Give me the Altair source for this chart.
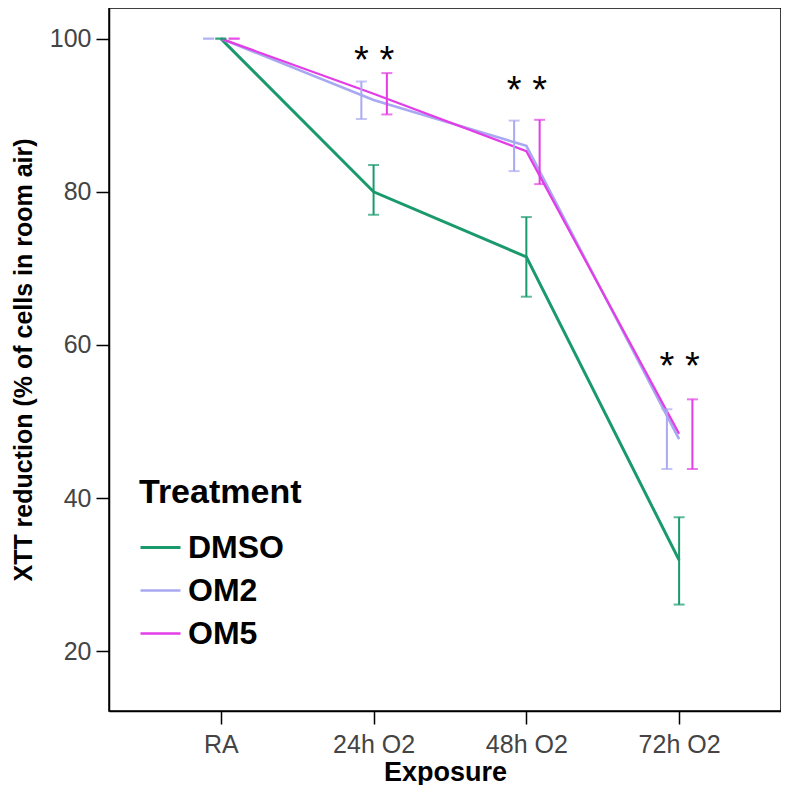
import json
import altair as alt
import pandas as pd

exposures = ["RA", "24h O2", "48h O2", "72h O2"]
treatments = ["DMSO", "OM2", "OM5"]
colors = ["#1a9a6c", "#a9a9f2", "#e23de6"]

dmso_mean = [100, 80.0, 71.5, 31.9]
dmso_lo = [100, 77.0, 66.3, 26.1]
dmso_hi = [100, 83.5, 76.7, 37.5]

om2_mean = [100, 92.0, 86.0, 47.7]
om2_lo = [100, 89.5, 82.7, 43.8]
om2_hi = [100, 94.4, 89.3, 51.6]

om5_mean = [100, 92.8, 85.3, 48.4]
om5_lo = [100, 90.1, 81.0, 43.8]
om5_hi = [100, 95.5, 89.4, 52.9]

# significance markers (above OM2 and OM5 at each O2 exposure)
star_exposures = ["24h O2", "48h O2", "72h O2"]
star_y = [98.2, 94.4, 58.3]
star_text = ["*", "*", "*"]

rows = []
for t, m, lo, hi in zip(treatments, [dmso_mean, om2_mean, om5_mean],
                        [dmso_lo, om2_lo, om5_lo], [dmso_hi, om2_hi, om5_hi]):
    for i, e in enumerate(exposures):
        rows.append({"Treatment": t, "Exposure": e, "idx": i,
                     "mean": m[i], "lo": lo[i], "hi": hi[i]})
df = pd.DataFrame(rows)

star_rows = []
for e, y, s in zip(star_exposures, star_y, star_text):
    for t in ["OM2", "OM5"]:
        star_rows.append({"Treatment": t, "idx": exposures.index(e), "y": y, "label": s})
stars = pd.DataFrame(star_rows)

dodge = "datum.idx + (datum.Treatment == 'OM2' ? -0.08 : (datum.Treatment == 'OM5' ? 0.087 : 0))"
label_expr = json.dumps(exposures) + "[datum.value]"

xscale = alt.Scale(domain=[-0.732, 3.667], nice=False, zero=False)
yscale = alt.Scale(domain=[12.2, 104], nice=False, zero=False)
cscale = alt.Scale(domain=treatments, range=colors)
color = alt.Color("Treatment:N",
                  scale=cscale,
                  legend=alt.Legend(
                      title="Treatment", orient="none", legendX=30, legendY=468,
                      titleFontSize=34, titleFont="Liberation Sans", titleFontWeight="bold",
                      titleColor="black", titlePadding=16,
                      labelFontSize=32, labelFont="Liberation Sans", labelFontWeight="bold",
                      labelColor="black", labelOffset=6,
                      symbolType="stroke", symbolSize=1600, symbolStrokeWidth=3,
                      rowPadding=5, padding=0))

xaxis = alt.Axis(values=[0, 1, 2, 3], labelExpr=label_expr, title="Exposure",
                 grid=False, labelPadding=8, titlePadding=2, titleFontSize=27)
yaxis = alt.Axis(values=[20, 40, 60, 80, 100], title="XTT reduction (% of cells in room air)",
                 grid=False, labelPadding=5, titlePadding=13)

lines = alt.Chart(df).mark_line().encode(
    x=alt.X("idx:Q", scale=xscale, axis=xaxis),
    y=alt.Y("mean:Q", scale=yscale, axis=yaxis),
    color=color,
    strokeWidth=alt.StrokeWidth("Treatment:N",
                                scale=alt.Scale(domain=treatments, range=[3, 2.3, 3.2]),
                                legend=None),
)

bars = alt.Chart(df).transform_calculate(bx=dodge).mark_rule(strokeWidth=2).encode(
    x=alt.X("bx:Q", scale=xscale),
    y=alt.Y("lo:Q", scale=yscale),
    y2="hi:Q",
    color=alt.Color("Treatment:N", scale=cscale, legend=None),
)

caps_lo = alt.Chart(df).transform_calculate(bx=dodge).mark_tick(
    orient="horizontal", size=11, thickness=2).encode(
    x=alt.X("bx:Q", scale=xscale),
    y=alt.Y("lo:Q", scale=yscale),
    color=alt.Color("Treatment:N", scale=cscale, legend=None),
)
caps_hi = alt.Chart(df).transform_calculate(bx=dodge).mark_tick(
    orient="horizontal", size=11, thickness=2).encode(
    x=alt.X("bx:Q", scale=xscale),
    y=alt.Y("hi:Q", scale=yscale),
    color=alt.Color("Treatment:N", scale=cscale, legend=None),
)

star_marks = alt.Chart(stars).transform_calculate(bx=dodge).mark_text(
    font="Liberation Sans", fontSize=38, color="black", baseline="middle", dy=10).encode(
    x=alt.X("bx:Q", scale=xscale),
    y=alt.Y("y:Q", scale=yscale),
    text="label:N",
)

chart = alt.layer(lines, bars, caps_lo, caps_hi, star_marks).properties(
    width=672, height=703,
    padding={"left": 3, "top": 0, "right": 0, "bottom": 0},
).configure_view(
    stroke="black", strokeWidth=1.5
).configure_axis(
    domainColor="black", domainWidth=1.5, tickColor="black", tickWidth=1.5, tickSize=13,
    labelFont="Liberation Sans", labelFontSize=25, labelColor="#444444",
    titleFont="Liberation Sans", titleFontSize=25, titleFontWeight="bold", titleColor="black",
)

chart.save("out.html", embed_options={"renderer": "svg", "actions": False})
